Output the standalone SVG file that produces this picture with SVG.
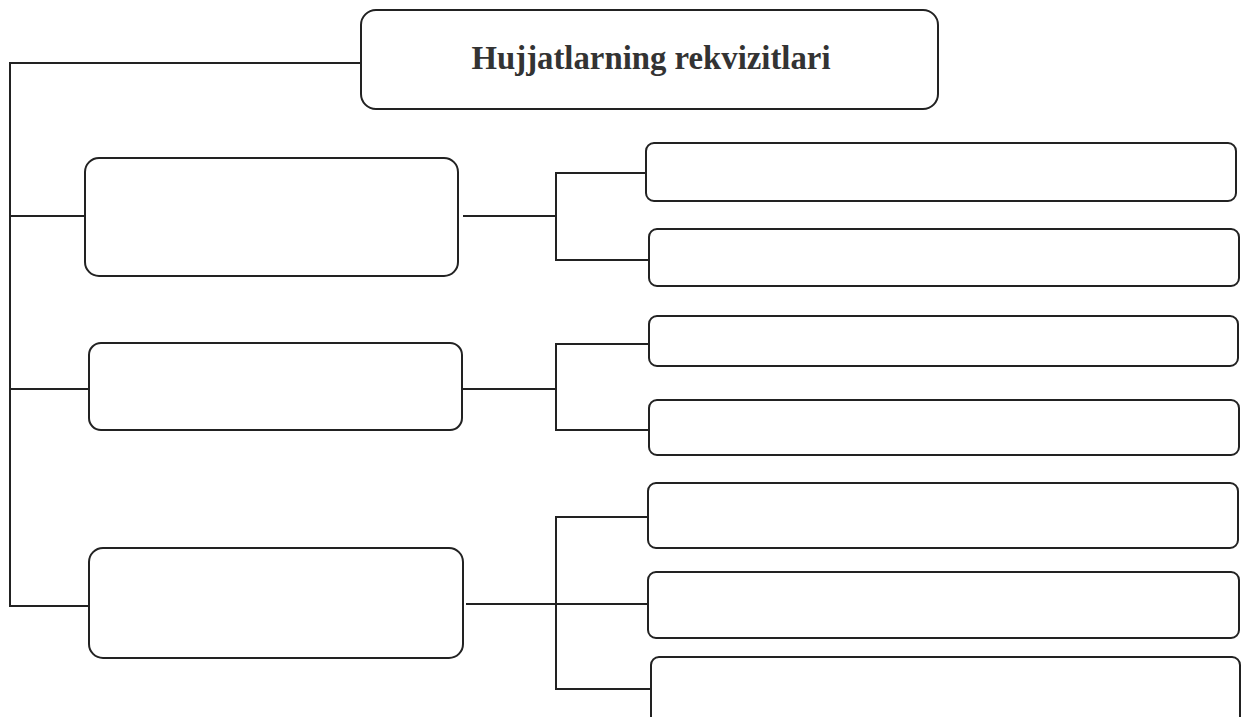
<svg xmlns="http://www.w3.org/2000/svg" width="1246" height="717" viewBox="0 0 1246 717">
<style>
.box{fill:#fff;stroke:#222;stroke-width:2}
.c{fill:none;stroke:#222;stroke-width:2}
.t{font-family:"Liberation Serif","Times New Roman",serif;font-weight:bold;font-size:34px;fill:#333;text-anchor:middle}
</style>
<rect width="1246" height="717" fill="#fff"/>
<g id="connectors">
<polyline class="c" points="361,63 10,63 10,606 89,606"/>
<line class="c" x1="10" y1="216" x2="85" y2="216"/>
<line class="c" x1="10" y1="389" x2="89" y2="389"/>
<line class="c" x1="463" y1="216" x2="556" y2="216"/>
<polyline class="c" points="646,173 556,173 556,260 649,260"/>
<line class="c" x1="463" y1="389" x2="556" y2="389"/>
<polyline class="c" points="649,344 556,344 556,430 649,430"/>
<line class="c" x1="466" y1="604" x2="648" y2="604"/>
<polyline class="c" points="648,517 556,517 556,689 651,689"/>
</g>
<g id="title">
<rect class="box" x="361" y="10" width="577" height="99" rx="15"/>
<text class="t" x="651" y="69" textLength="359" lengthAdjust="spacingAndGlyphs">Hujjatlarning rekvizitlari</text>
</g>
<g id="boxA"><rect class="box" x="85" y="158" width="373" height="118" rx="14"/></g>
<g id="boxB"><rect class="box" x="89" y="343" width="373" height="87" rx="12"/></g>
<g id="boxC"><rect class="box" x="89" y="548" width="374" height="110" rx="14"/></g>
<g id="r1"><rect class="box" x="646" y="143" width="590" height="58" rx="8"/></g>
<g id="r2"><rect class="box" x="649" y="229" width="590" height="57" rx="8"/></g>
<g id="r3"><rect class="box" x="649" y="316" width="589" height="50" rx="8"/></g>
<g id="r4"><rect class="box" x="649" y="400" width="590" height="55" rx="8"/></g>
<g id="r5"><rect class="box" x="648" y="483" width="590" height="65" rx="8"/></g>
<g id="r6"><rect class="box" x="648" y="572" width="591" height="66" rx="8"/></g>
<g id="r7"><rect class="box" x="651" y="657" width="589" height="70" rx="8"/></g>
</svg>
